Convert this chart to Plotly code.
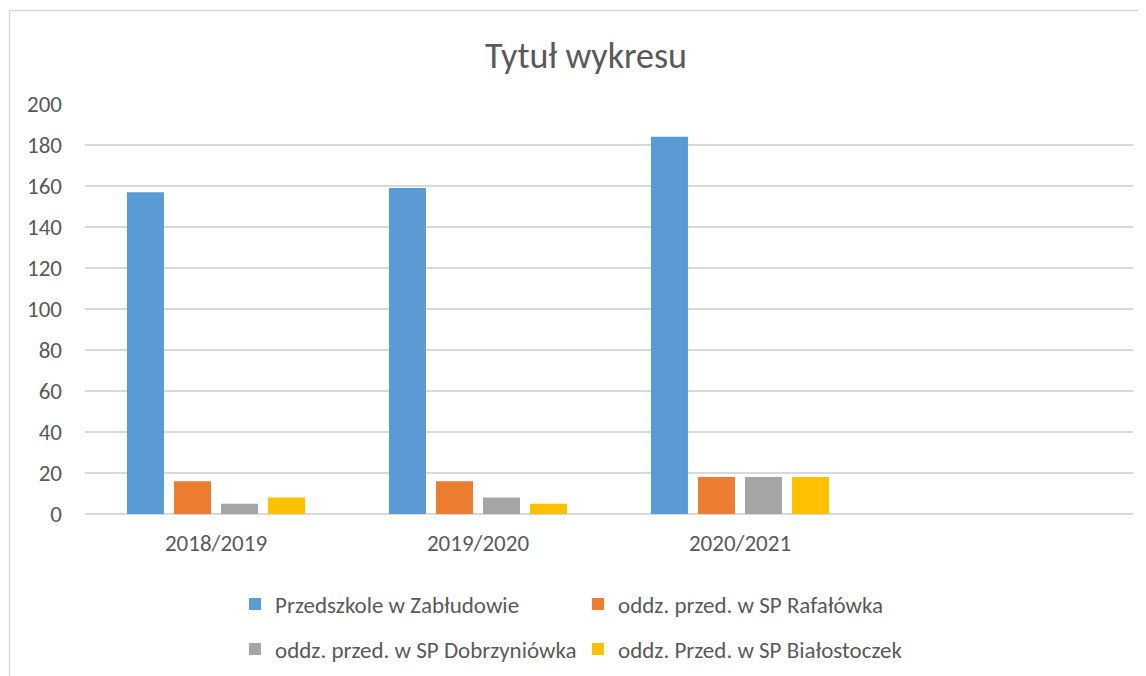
import plotly.graph_objects as go

categories = ["2018/2019", "2019/2020", "2020/2021"]
series_names = [
    "Przedszkole w Zabłudowie",
    "oddz. przed. w SP Rafałówka",
    "oddz. przed. w SP Dobrzyniówka",
    "oddz. Przed. w SP Białostoczek",
]
przedszkole = [157, 159, 184]
rafalowka = [16, 16, 18]
dobrzyniowka = [5, 8, 18]
bialostoczek = [8, 5, 18]
colors = ["#5B9BD5", "#ED7D31", "#A5A5A5", "#FFC000"]
y_ticks = [0, 20, 40, 60, 80, 100, 120, 140, 160, 180, 200]

FONT = "Calibri, Carlito, Lato, sans-serif"
TXT = "#595959"

values = [przedszkole, rafalowka, dobrzyniowka, bialostoczek]
legends = ["legend", "legend", "legend2", "legend2"]

fig = go.Figure()
for name, vals, col, lg in zip(series_names, values, colors, legends):
    fig.add_trace(go.Bar(
        x=categories, y=vals, name=name, marker_color=col,
        marker_line_width=0, legend=lg,
    ))

# page body has an 8px margin; figure coords = screen coords - 8
W, H = 1138, 690
L, R, T, B = 77, 13, 96, 184
pw = W - L - R
ph = H - T - B

def px2x(px):
    return (px - L) / pw

def px2y(py):
    return 1 - (py - T) / ph

fig.update_layout(
    width=W, height=H,
    margin=dict(l=L, r=R, t=T, b=B),
    paper_bgcolor="white", plot_bgcolor="white",
    barmode="group", bargap=0.282, bargroupgap=0.213,
    font=dict(family=FONT, color=TXT, size=23),
    title=dict(text="Tytuł wykresu", x=578 / W, xanchor="center",
               xref="container", y=1 - 47 / H, yanchor="middle",
               yref="container",
               font=dict(family=FONT, size=36, color=TXT)),
    xaxis=dict(type="category", range=[-0.5, 3.5], showgrid=False,
               showline=False, ticks="", zeroline=False,
               tickfont=dict(size=23, color=TXT), ticklabelstandoff=13),
    yaxis=dict(range=[0, 200], tickvals=y_ticks, showgrid=True,
               gridcolor="#D9D9D9", gridwidth=1.5, zeroline=True,
               zerolinecolor="#D9D9D9", zerolinewidth=1.5, showline=False,
               ticks="", tickfont=dict(size=23, color=TXT),
               ticklabelstandoff=22),
    legend=dict(orientation="h", x=px2x(227), y=px2y(596), xanchor="left",
                yanchor="middle", entrywidth=298, entrywidthmode="pixels",
                itemwidth=30, font=dict(size=23, color=TXT),
                bgcolor="rgba(0,0,0,0)"),
    legend2=dict(orientation="h", x=px2x(227), y=px2y(641), xanchor="left",
                 yanchor="middle", entrywidth=298, entrywidthmode="pixels",
                 itemwidth=30, font=dict(size=23, color=TXT),
                 bgcolor="rgba(0,0,0,0)"),
    showlegend=True,
)

fig.add_shape(type="rect", xref="paper", yref="paper",
              x0=px2x(1.5), x1=px2x(1160), y0=px2y(2.5), y1=px2y(720),
              line=dict(color="#D9D9D9", width=1.5), layer="below")

fig.write_html("out.html")
